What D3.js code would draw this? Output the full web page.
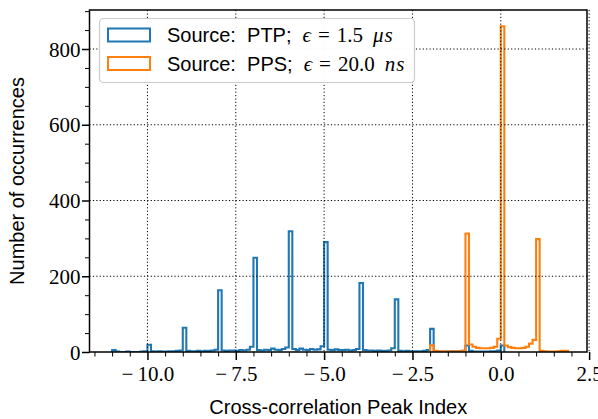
<!DOCTYPE html>
<html>
<head>
<meta charset="utf-8">
<script src="https://cdn.jsdelivr.net/npm/d3@7"></script>
<style>
  html, body { margin: 0; padding: 0; background: #fff; }
  svg { display: block; }
</style>
</head>
<body>
<svg id="chart" width="598" height="419"></svg>
<script>
// Histogram bins: width 0.1, first bin starting at the given left edge.
const binWidth = 0.1;

// PTP-synchronised source: counts per bin from -11.0 up to 0.1
const ptpStart = -11.0;
const ptpCounts = [
  // -11.0 .. -10.1
  5, 1, 0, 0, 1, 0, 0, 0, 1, 2,
  // -10.0 .. -9.1
  19, 2, 1, 2, 1, 1, 2, 2, 3, 4,
  // -9.0 .. -8.1
  64, 3, 2, 2, 3, 2, 3, 3, 4, 6,
  // -8.0 .. -7.1
  163, 4, 3, 4, 4, 3, 5, 4, 6, 14,
  // -7.0 .. -6.1
  249, 5, 4, 6, 5, 9, 6, 5, 8, 12,
  // -6.0 .. -5.1
  319, 8, 5, 9, 6, 5, 8, 6, 7, 15,
  // -5.0 .. -4.1
  290, 6, 5, 7, 5, 5, 6, 4, 5, 8,
  // -4.0 .. -3.1
  182, 5, 4, 4, 3, 4, 3, 3, 4, 10,
  // -3.0 .. -2.1
  139, 3, 2, 3, 2, 2, 2, 2, 3, 5,
  // -2.0 .. -1.1
  61, 2, 1, 1, 1, 1, 2, 1, 2, 3,
  // -1.0 .. -0.1
  17, 3, 1, 1, 1, 1, 1, 2, 2, 4,
  // 0.0
  17
];

// PPS-synchronised source: counts per bin from -2.0 up to 1.9
const ppsStart = -2.0;
const ppsCounts = [
  // -2.0 .. -1.1
  18, 3, 2, 2, 1, 1, 2, 1, 2, 3,
  // -1.0 .. -0.1
  313, 20, 14, 11, 10, 10, 10, 11, 14, 35,
  // 0.0 .. 0.9
  860, 17, 13, 11, 10, 10, 11, 14, 22, 32,
  // 1.0 .. 1.8
  298, 3, 2, 1, 1, 1, 2, 3, 3
];

const seriesNames = ["Source:  PTP;", "Source:  PPS;"];
const seriesEps = ["1.5", "20.0"];
const seriesUnits = ["\u03BCs", "ns"];
const seriesColors = ["#1f77b4", "#ff7f0e"];

const xMajorTicks = [-10, -7.5, -5, -2.5, 0, 2.5];
const yMajorTicks = [0, 200, 400, 600, 800];
const xLabel = "Cross-correlation Peak Index";
const yLabel = "Number of occurrences";

const plot = { left: 89.5, right: 587, top: 10, bottom: 352 };

const svg = d3.select("#chart");

// Data extents with 5% padding on each side
const xMin = Math.min(ptpStart, ppsStart);
const xMax = Math.max(ptpStart + ptpCounts.length * binWidth,
                      ppsStart + ppsCounts.length * binWidth) - binWidth;
const xPad = (xMax - xMin) * 0.05;
const x = d3.scaleLinear().domain([xMin - xPad, xMax + xPad]).range([plot.left, plot.right]);
const yMax = d3.max(ppsCounts.concat(ptpCounts)) * 1.05;
const y = d3.scaleLinear().domain([0, yMax]).range([plot.bottom, plot.top]);

// Tick label: minus sign set apart from the digits, as in typeset math
const fmt = v => {
  const s = Math.abs(v) < 1e-9 ? "0.0" : d3.format(".1f")(Math.abs(v));
  return v < -1e-9 ? "\u2212\u2009" + s : s;
};

// Step outline of a histogram (open at the bottom)
function stepPoints(start, counts) {
  const pts = [[start, 0]];
  counts.forEach((c, i) => {
    const a = start + i * binWidth, b = start + (i + 1) * binWidth;
    pts.push([a, c], [b, c]);
  });
  pts.push([start + counts.length * binWidth, 0]);
  return pts;
}
const line = d3.line().x(d => x(d[0])).y(d => y(d[1]));

const defs = svg.append("defs");
defs.append("clipPath").attr("id", "plotClip")
  .append("rect")
  .attr("x", plot.left).attr("y", plot.top)
  .attr("width", plot.right - plot.left).attr("height", plot.bottom - plot.top);

const marks = svg.append("g").attr("clip-path", "url(#plotClip)");
[[ptpStart, ptpCounts], [ppsStart, ppsCounts]].forEach(([s, c], i) => {
  marks.append("path")
    .attr("d", line(stepPoints(s, c)))
    .attr("fill", "none")
    .attr("stroke", seriesColors[i])
    .attr("stroke-width", 2.1)
    .attr("stroke-linejoin", "miter");
});

// Dotted grid on top of the histograms
const grid = svg.append("g")
  .attr("stroke", "#000").attr("stroke-width", 1)
  .attr("stroke-dasharray", "1.2,2.2");
xMajorTicks.forEach(v => {
  grid.append("line")
    .attr("x1", x(v)).attr("x2", x(v))
    .attr("y1", plot.top).attr("y2", plot.bottom);
});
yMajorTicks.filter(v => v > 0).forEach(v => {
  grid.append("line")
    .attr("x1", plot.left).attr("x2", plot.right)
    .attr("y1", y(v)).attr("y2", y(v));
});

// Axes
const tickFont = "'Liberation Serif', 'DejaVu Serif', serif";
const labelFont = "'Liberation Sans', 'DejaVu Sans', sans-serif";

const xMinor = d3.range(-11.5, 2.51, 0.5).filter(v => !xMajorTicks.some(t => Math.abs(t - v) < 1e-9));
const yMinor = d3.range(50, 901, 50).filter(v => v % 200 !== 0);

const xAxisMinor = svg.append("g").attr("transform", `translate(0,${plot.bottom})`)
  .call(d3.axisBottom(x).tickValues(xMinor).tickSize(4.5).tickFormat(""));
const xAxis = svg.append("g").attr("transform", `translate(0,${plot.bottom})`)
  .call(d3.axisBottom(x).tickValues(xMajorTicks).tickSize(8).tickPadding(6).tickFormat(fmt));
const yAxisMinor = svg.append("g").attr("transform", `translate(${plot.left},0)`)
  .call(d3.axisLeft(y).tickValues(yMinor).tickSize(4.5).tickFormat(""));
const yAxis = svg.append("g").attr("transform", `translate(${plot.left},0)`)
  .call(d3.axisLeft(y).tickValues(yMajorTicks).tickSize(7.5).tickPadding(1.5).tickFormat(d3.format("d")));

[xAxisMinor, xAxis, yAxisMinor, yAxis].forEach(g => {
  g.select(".domain").remove();
  g.selectAll(".tick line").attr("stroke", "#000");
});
xAxisMinor.selectAll(".tick line").attr("stroke-width", 1);
yAxisMinor.selectAll(".tick line").attr("stroke-width", 1);
xAxis.selectAll(".tick line").attr("stroke-width", 1.5);
yAxis.selectAll(".tick line").attr("stroke-width", 1.5);
[xAxis, yAxis].forEach(g => {
  g.selectAll(".tick text")
    .attr("font-family", tickFont).attr("font-size", 21).attr("fill", "#000");
});
yAxis.selectAll(".tick text").attr("dy", "0.34em");

// Frame
svg.append("rect")
  .attr("x", plot.left).attr("y", plot.top)
  .attr("width", plot.right - plot.left).attr("height", plot.bottom - plot.top)
  .attr("fill", "none").attr("stroke", "#000").attr("stroke-width", 1.5);

// Axis titles
svg.append("text")
  .attr("x", (plot.left + plot.right) / 2).attr("y", 414)
  .attr("text-anchor", "middle")
  .attr("font-family", labelFont).attr("font-size", 20)
  .text(xLabel);
svg.append("text")
  .attr("transform", `translate(24,${(plot.top + plot.bottom) / 2}) rotate(-90)`)
  .attr("text-anchor", "middle")
  .attr("font-family", labelFont).attr("font-size", 20)
  .text(yLabel);

// Legend
const legend = svg.append("g");
legend.append("rect")
  .attr("x", 99.5).attr("y", 18.5).attr("width", 315).attr("height", 64)
  .attr("rx", 4).attr("ry", 4)
  .attr("fill", "#fff").attr("fill-opacity", 0.95)
  .attr("stroke", "#cccccc").attr("stroke-width", 1.2);
seriesNames.forEach((name, i) => {
  const cy = 35 + i * 28.5;
  legend.append("rect")
    .attr("x", 108).attr("y", cy - 6.5).attr("width", 42).attr("height", 13)
    .attr("fill", "none").attr("stroke", seriesColors[i]).attr("stroke-width", 2);
  const t = legend.append("text")
    .attr("x", 167).attr("y", cy + 7)
    .attr("font-size", 20);
  t.append("tspan").attr("font-family", labelFont).attr("xml:space", "preserve").text(name);
  t.append("tspan").attr("dx", 11).attr("font-family", tickFont).attr("font-size", 21)
    .attr("font-style", "italic").text("\u03F5");
  t.append("tspan").attr("dx", 7).attr("font-family", tickFont).attr("font-size", 21).text("=");
  t.append("tspan").attr("dx", 7).attr("font-family", tickFont).attr("font-size", 21).text(seriesEps[i]);
  t.append("tspan").attr("dx", 10).attr("font-family", tickFont).attr("font-size", 21)
    .attr("font-style", "italic").attr("letter-spacing", 1).text(seriesUnits[i]);
});
</script>
</body>
</html>
